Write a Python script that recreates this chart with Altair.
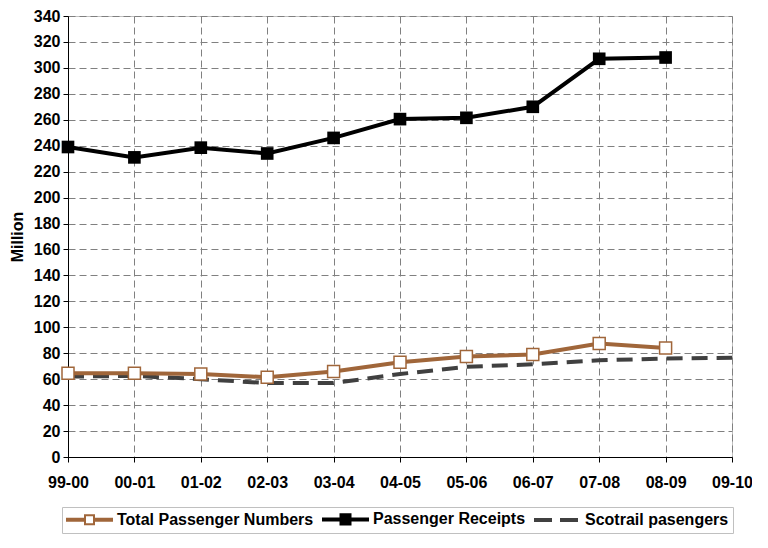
import pandas as pd
import altair as alt

# season labels on the x axis
seasons = ["99-00", "00-01", "01-02", "02-03", "03-04", "04-05",
           "05-06", "06-07", "07-08", "08-09", "09-10"]

# values in millions (None = no point)
total_passengers = [64.5, 64.5, 64, 61.5, 66, 73, 77.5, 79, 87.5, 84, None]
passenger_receipts = [239, 231, 238.5, 234, 246, 260.5, 261.5, 270, 307, 308, None]
scotrail_passengers = [62, 62.5, 60, 57, 57, 64, 69.5, 71.5, 74.5, 76, 76.5]

series_names = ["Total Passenger Numbers", "Passenger Receipts", "Scotrail pasengers"]

BROWN = "#A0663A"
DARK = "#404040"
FONT = "Liberation Sans"


def build_table() -> pd.DataFrame:
    rows = []
    for name, vals in zip(series_names, [total_passengers, passenger_receipts, scotrail_passengers]):
        for s, v in zip(seasons, vals):
            if v is not None:
                rows.append({"season": s, "series": name, "value": v})
    return pd.DataFrame(rows)


df = build_table()

x_enc = alt.X("season:O", scale=alt.Scale(type="point", padding=0, domain=seasons),
              axis=alt.Axis(title=None, labelAngle=0, labelPadding=12, grid=True))
y_enc = alt.Y("value:Q", scale=alt.Scale(domain=[0, 340], nice=False),
              axis=alt.Axis(title="Million", values=list(range(0, 341, 20)),
                            titlePadding=8, labelPadding=3))

base = alt.Chart(df).encode(x=x_enc, y=y_enc)

scot = base.transform_filter(alt.datum.series == series_names[2]).mark_line(
    color=DARK, strokeWidth=4, strokeDash=[16, 9])
total_line = base.transform_filter(alt.datum.series == series_names[0]).mark_line(
    color=BROWN, strokeWidth=4)
total_pts = base.transform_filter(alt.datum.series == series_names[0]).mark_point(
    shape="square", size=144, filled=True, fill="white", stroke=BROWN,
    strokeWidth=1.5, opacity=1)
rec_line = base.transform_filter(alt.datum.series == series_names[1]).mark_line(
    color="black", strokeWidth=4)
rec_pts = base.transform_filter(alt.datum.series == series_names[1]).mark_point(
    shape="square", size=160, filled=True, color="black", opacity=1)

# legend symbols: line + square drawn as custom paths (6px per unit)
path_total = ("M-1.1667,-0.1667H1.8333V0.1667H-1.1667Z "
              "M3.3333,-0.1667H6.3333V0.1667H3.3333Z "
              "M1.8333,-0.75H3.3333V0.75H1.8333Z")
path_rec = ("M-1.1667,-0.1667H1.75V0.1667H-1.1667Z "
            "M3.4167,-0.1667H6.3333V0.1667H3.4167Z "
            "M1.75,-0.85H3.4167V0.85H1.75Z")
path_scot = ("M-1.1667,-0.1667H1.5V0.1667H-1.1667Z "
             "M3.1667,-0.1667H5.8333V0.1667H3.1667Z")

legend = alt.Legend(title=None, orient="none", legendX=-6, legendY=491,
                    direction="horizontal", strokeColor="#c0c0c0", fillColor="white",
                    padding=4, labelFont=FONT, labelFontSize=16, labelFontWeight="bold",
                    labelColor="black", labelLimit=400, labelOffset=35,
                    symbolSize=144, symbolStrokeWidth=2, columnPadding=4,
                    symbolOpacity=1)

legend_layer = alt.Chart(df).transform_filter("false").mark_point(
    filled=True, strokeWidth=2, opacity=1).encode(
    shape=alt.Shape("series:N", scale=alt.Scale(domain=series_names,
                                                range=[path_total, path_rec, path_scot]),
                    legend=legend),
    stroke=alt.Stroke("series:N", scale=alt.Scale(domain=series_names,
                                                  range=[BROWN, "black", DARK]),
                      legend=legend),
    fill=alt.Fill("series:N", scale=alt.Scale(domain=series_names,
                                              range=["white", "black", DARK]),
                  legend=legend),
)

chart = alt.layer(scot, total_line, total_pts, rec_line, rec_pts, legend_layer).properties(
    width=664, height=441,
    autosize=alt.AutoSizeParams(type="none"),
    padding={"left": 60, "top": 8, "right": 20, "bottom": 80},
).configure_view(
    stroke="#c0c0c0", strokeWidth=1
).configure_axis(
    labelFont=FONT, labelFontSize=16, labelFontWeight="bold", labelColor="black",
    titleFont=FONT, titleFontSize=16, titleFontWeight="bold", titleColor="black",
    domainColor="black", domainWidth=1, tickColor="black", tickSize=5, tickWidth=1,
    gridColor="#808080", gridDash=[7, 4], gridWidth=1,
)

chart.save("out.html", embed_options={"renderer": "svg", "actions": False})
